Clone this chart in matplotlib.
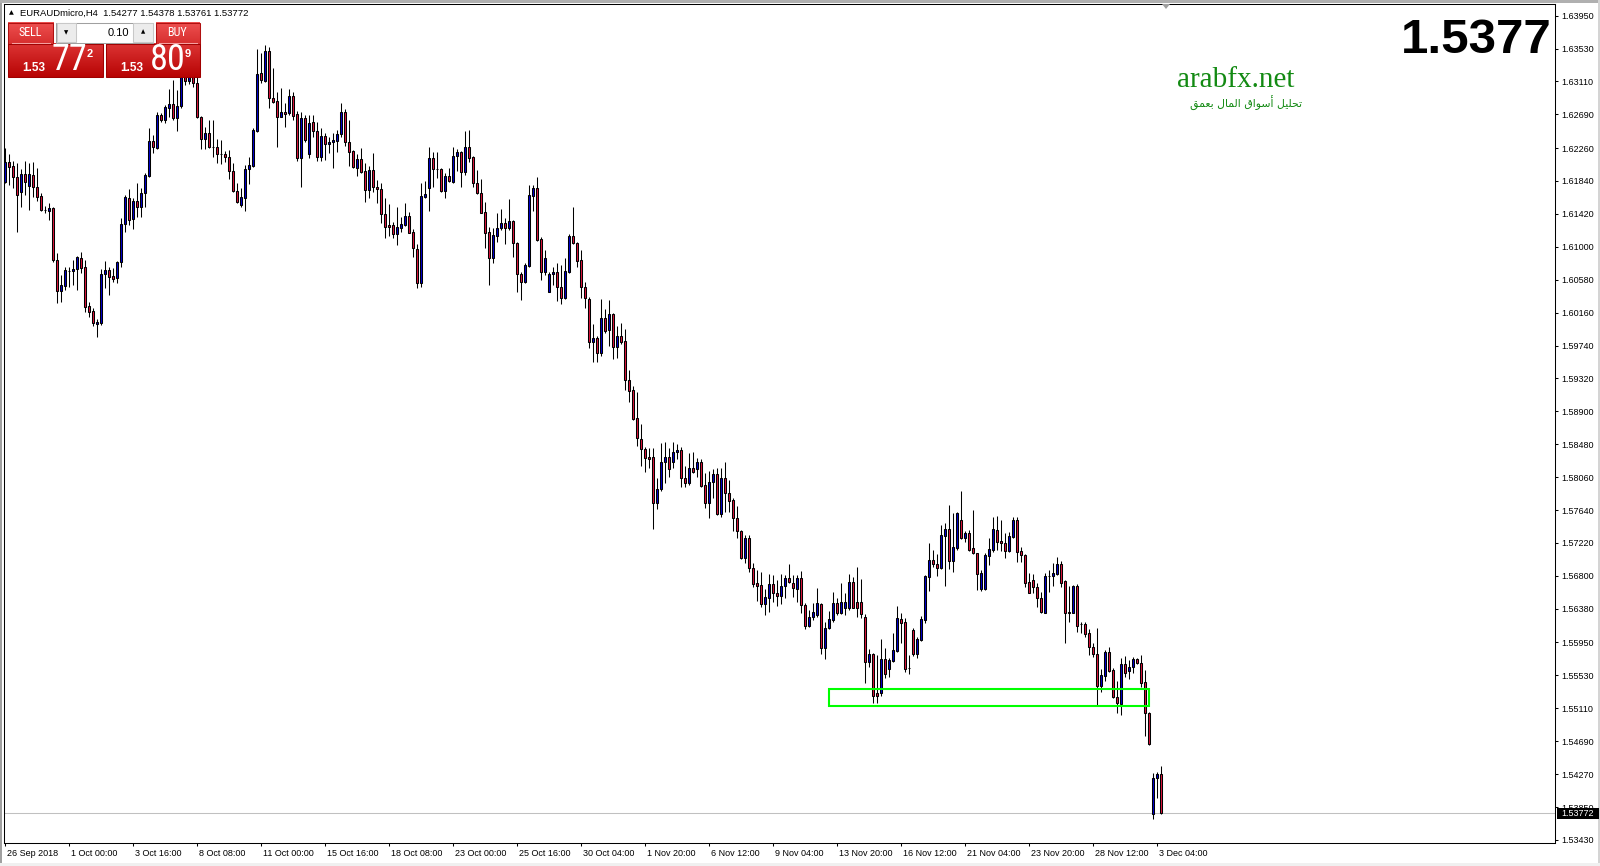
import numpy as np
import matplotlib.pyplot as plt
import matplotlib.transforms as mtransforms
from matplotlib import font_manager
from matplotlib.colors import LinearSegmentedColormap
from matplotlib.patches import Rectangle, Polygon

symbol = "EURAUDmicro,H4"
bid, ask, lot = 1.53772, 1.53809, "0.10"
site = "arabfx.net"
tagline = "تحليل أسواق المال بعمق"

# H4 candles, 26 Sep 2018 -> 3 Dec 2018
opens = [
    1.61832, 1.62079, 1.62032, 1.61887, 1.61704, 1.61926, 1.61781, 1.61917, 1.61760, 1.61649,
    1.61472, 1.61462, 1.61492, 1.60832, 1.60441, 1.60505, 1.60690, 1.60688, 1.60713, 1.60853,
    1.60739, 1.60245, 1.60181, 1.60011, 1.60032, 1.60649, 1.60705, 1.60628, 1.60607, 1.60807,
    1.61292, 1.61628, 1.61351, 1.61581, 1.61504, 1.61683, 1.61904, 1.62351, 1.62257, 1.62679,
    1.62619, 1.62776, 1.62819, 1.62649, 1.62802, 1.63210, 1.63120, 1.63300, 1.63095, 1.62653,
    1.62372, 1.62449, 1.62272, 1.62270, 1.62183, 1.62181, 1.62151, 1.61968, 1.61713, 1.61534,
    1.61628, 1.61989, 1.62032, 1.62483, 1.63215, 1.63121, 1.63500, 1.62904, 1.62862, 1.62662,
    1.62725, 1.62713, 1.62925, 1.62695, 1.62138, 1.62640, 1.62181, 1.62589, 1.62483, 1.62151,
    1.62415, 1.62308, 1.62334, 1.62355, 1.62436, 1.62717, 1.62334, 1.62223, 1.62010, 1.62117,
    1.61968, 1.61725, 1.61981, 1.61768, 1.61734, 1.61415, 1.61279, 1.61275, 1.61160, 1.61245,
    1.61279, 1.61394, 1.61189, 1.60968, 1.60543, 1.61640, 1.61755, 1.62130, 1.61991, 1.61989,
    1.61717, 1.61904, 1.61832, 1.62159, 1.62210, 1.61959, 1.62270, 1.62142, 1.61811, 1.61683,
    1.61440, 1.61185, 1.60853, 1.61143, 1.61236, 1.61300, 1.61236, 1.61330, 1.61045, 1.60653,
    1.60556, 1.60760, 1.61649, 1.61747, 1.61096, 1.60683, 1.60428, 1.60649, 1.60675, 1.60492,
    1.60343, 1.60683, 1.61143, 1.61045, 1.60832, 1.60483, 1.60334, 1.59781, 1.59832, 1.59641,
    1.60088, 1.59939, 1.60139, 1.59726, 1.59862, 1.59798, 1.59300, 1.59173, 1.58811, 1.58543,
    1.58416, 1.58318, 1.58313, 1.57735, 1.57905, 1.58250, 1.58322, 1.58258, 1.58377, 1.58403,
    1.58045, 1.57990, 1.58173, 1.58160, 1.58250, 1.57960, 1.57735, 1.57994, 1.58096, 1.57586,
    1.58045, 1.57854, 1.57769, 1.57535, 1.57373, 1.57024, 1.57280, 1.56897, 1.56705, 1.56684,
    1.56437, 1.56522, 1.56693, 1.56578, 1.56548, 1.56671, 1.56769, 1.56705, 1.56629, 1.56769,
    1.56429, 1.56165, 1.56271, 1.56301, 1.56442, 1.55876, 1.56131, 1.56237, 1.56450, 1.56322,
    1.56386, 1.56386, 1.56718, 1.56463, 1.56463, 1.56280, 1.55706, 1.55803, 1.55310, 1.55301,
    1.55740, 1.55608, 1.55718, 1.55846, 1.56246, 1.56212, 1.55623, 1.56110, 1.55799, 1.55982,
    1.56237, 1.56790, 1.57003, 1.56948, 1.56897, 1.57314, 1.57395, 1.56995, 1.57152, 1.57514,
    1.57288, 1.57352, 1.57152, 1.57088, 1.56629, 1.56633, 1.57054, 1.57131, 1.57386, 1.57246,
    1.57216, 1.57118, 1.57301, 1.57514, 1.57118, 1.57067, 1.56727, 1.56748, 1.56663, 1.56514,
    1.56331, 1.56801, 1.56799, 1.56825, 1.56948, 1.56735, 1.56333, 1.56331, 1.56671, 1.56188,
    1.56186, 1.56067, 1.55897, 1.55799, 1.55399, 1.55527, 1.55833, 1.55599, 1.55259, 1.55165,
    1.55672, 1.55591, 1.55633, 1.55740, 1.55693, 1.55442, 1.55046, 1.53761, 1.54217, 1.54277,
]
highs = [
    1.62257, 1.62185, 1.62096, 1.62066, 1.61989, 1.62096, 1.62066, 1.62087, 1.62002, 1.61683,
    1.61526, 1.61564, 1.61513, 1.60917, 1.60641, 1.60747, 1.60747, 1.60832, 1.60883, 1.60939,
    1.60832, 1.60300, 1.60224, 1.60075, 1.60722, 1.60824, 1.60747, 1.60726, 1.60824, 1.61364,
    1.61662, 1.61738, 1.61619, 1.61811, 1.61747, 1.61938, 1.62513, 1.62428, 1.62725, 1.62713,
    1.62810, 1.63010, 1.63130, 1.63002, 1.63342, 1.63380, 1.63450, 1.63420, 1.63200, 1.62670,
    1.62525, 1.62619, 1.62619, 1.62372, 1.62364, 1.62223, 1.62236, 1.62066, 1.61819, 1.61747,
    1.62040, 1.62143, 1.62513, 1.63521, 1.63478, 1.63576, 1.63555, 1.63278, 1.62981, 1.63023,
    1.62832, 1.63015, 1.62981, 1.62738, 1.62725, 1.62683, 1.62683, 1.62683, 1.62598, 1.62513,
    1.62449, 1.62406, 1.62457, 1.62491, 1.62832, 1.62755, 1.62619, 1.62236, 1.62181, 1.62257,
    1.62066, 1.62032, 1.62193, 1.61853, 1.61819, 1.61619, 1.61543, 1.61321, 1.61504, 1.61385,
    1.61555, 1.61449, 1.61223, 1.61036, 1.61811, 1.61845, 1.62270, 1.62215, 1.62215, 1.62010,
    1.61938, 1.62010, 1.62270, 1.62253, 1.62227, 1.62478, 1.62491, 1.62159, 1.61981, 1.61862,
    1.61577, 1.61249, 1.61236, 1.61436, 1.61483, 1.61364, 1.61611, 1.61343, 1.61066, 1.60683,
    1.60790, 1.61789, 1.61789, 1.61887, 1.61130, 1.60960, 1.60683, 1.60747, 1.60790, 1.60768,
    1.60853, 1.61160, 1.61504, 1.61066, 1.60960, 1.60555, 1.60356, 1.60015, 1.59862, 1.60334,
    1.60202, 1.60321, 1.60151, 1.59994, 1.60032, 1.59947, 1.59428, 1.59224, 1.59143, 1.58739,
    1.58450, 1.58428, 1.58428, 1.58045, 1.58492, 1.58513, 1.58428, 1.58505, 1.58479, 1.58450,
    1.58203, 1.58373, 1.58386, 1.58301, 1.58296, 1.58109, 1.58143, 1.58160, 1.58182, 1.58173,
    1.58250, 1.58024, 1.57790, 1.57692, 1.57386, 1.57322, 1.57322, 1.56961, 1.56876, 1.56854,
    1.56629, 1.56820, 1.56812, 1.56748, 1.56820, 1.56807, 1.56952, 1.56812, 1.56812, 1.56867,
    1.56450, 1.56365, 1.56459, 1.56642, 1.56459, 1.56216, 1.56352, 1.56590, 1.56514, 1.56705,
    1.56578, 1.56824, 1.56790, 1.56918, 1.56761, 1.56314, 1.55867, 1.55812, 1.55791, 1.55995,
    1.55876, 1.55757, 1.56067, 1.56416, 1.56323, 1.56259, 1.55791, 1.56131, 1.56025, 1.56293,
    1.56807, 1.57216, 1.57131, 1.57080, 1.57450, 1.57471, 1.57705, 1.57599, 1.57612, 1.57884,
    1.57378, 1.57386, 1.57641, 1.57097, 1.56876, 1.57088, 1.57280, 1.57556, 1.57565, 1.57514,
    1.57352, 1.57365, 1.57556, 1.57548, 1.57165, 1.57080, 1.56833, 1.56825, 1.56705, 1.56599,
    1.56833, 1.56876, 1.56961, 1.57037, 1.56995, 1.56748, 1.56671, 1.56684, 1.56697, 1.56216,
    1.56216, 1.56123, 1.55940, 1.56131, 1.55608, 1.55855, 1.55889, 1.55621, 1.55463, 1.55748,
    1.55782, 1.55727, 1.55761, 1.55757, 1.55791, 1.55599, 1.55067, 1.54284, 1.54301, 1.54378,
]
lows = [
    1.61811, 1.61789, 1.61747, 1.61194, 1.61513, 1.61662, 1.61470, 1.61641, 1.61589, 1.61462,
    1.61428, 1.61343, 1.60811, 1.60279, 1.60300, 1.60449, 1.60492, 1.60513, 1.60449, 1.60662,
    1.60173, 1.60109, 1.59990, 1.59845, 1.60003, 1.60471, 1.60386, 1.60556, 1.60534, 1.60747,
    1.61194, 1.61279, 1.61232, 1.61385, 1.61377, 1.61513, 1.61896, 1.62202, 1.62249, 1.62598,
    1.62576, 1.62653, 1.62619, 1.62483, 1.62768, 1.63060, 1.63080, 1.63044, 1.62640, 1.62245,
    1.62245, 1.62257, 1.62151, 1.62066, 1.62057, 1.62087, 1.61862, 1.61704, 1.61555, 1.61504,
    1.61462, 1.61802, 1.62015, 1.62470, 1.63095, 1.63108, 1.62768, 1.62832, 1.62279, 1.62653,
    1.62525, 1.62683, 1.62619, 1.62100, 1.61768, 1.62342, 1.62138, 1.62406, 1.62100, 1.62100,
    1.62108, 1.62202, 1.62010, 1.62215, 1.62406, 1.62287, 1.62032, 1.62010, 1.61908, 1.61938,
    1.61577, 1.61619, 1.61704, 1.61555, 1.61309, 1.61117, 1.61138, 1.61109, 1.61019, 1.61189,
    1.61266, 1.61172, 1.60875, 1.60470, 1.60483, 1.61619, 1.61462, 1.61768, 1.61874, 1.61704,
    1.61619, 1.61832, 1.61811, 1.61968, 1.61768, 1.61917, 1.62087, 1.61759, 1.61674, 1.61428,
    1.60981, 1.60513, 1.60790, 1.61066, 1.61215, 1.61036, 1.61215, 1.60875, 1.60428, 1.60322,
    1.60534, 1.60747, 1.61462, 1.61079, 1.60577, 1.60641, 1.60420, 1.60513, 1.60313, 1.60266,
    1.60330, 1.60670, 1.61036, 1.60738, 1.60343, 1.60215, 1.59705, 1.59534, 1.59534, 1.59611,
    1.59896, 1.59739, 1.59564, 1.59577, 1.59760, 1.59173, 1.59024, 1.58790, 1.58462, 1.58207,
    1.58131, 1.58173, 1.57399, 1.57658, 1.57888, 1.57982, 1.58067, 1.58173, 1.58288, 1.57931,
    1.57939, 1.57965, 1.58118, 1.58067, 1.57939, 1.57671, 1.57535, 1.57790, 1.57577, 1.57556,
    1.57620, 1.57616, 1.57378, 1.57280, 1.57012, 1.56961, 1.56854, 1.56663, 1.56484, 1.56408,
    1.56297, 1.56335, 1.56471, 1.56420, 1.56437, 1.56514, 1.56705, 1.56527, 1.56471, 1.56331,
    1.56118, 1.56144, 1.56237, 1.56280, 1.55799, 1.55735, 1.56118, 1.56216, 1.56301, 1.56310,
    1.56301, 1.56365, 1.56386, 1.56280, 1.56259, 1.55438, 1.55642, 1.55174, 1.55174, 1.55267,
    1.55501, 1.55514, 1.55706, 1.55833, 1.55940, 1.55578, 1.55544, 1.55782, 1.55757, 1.55974,
    1.56195, 1.56612, 1.56910, 1.56799, 1.56888, 1.56676, 1.56884, 1.56846, 1.57131, 1.57271,
    1.57237, 1.57118, 1.57080, 1.56620, 1.56612, 1.56620, 1.56939, 1.57110, 1.57131, 1.57118,
    1.57033, 1.57110, 1.57280, 1.56982, 1.56982, 1.56654, 1.56580, 1.56586, 1.56399, 1.56323,
    1.56323, 1.56599, 1.56676, 1.56812, 1.56663, 1.55940, 1.56216, 1.56323, 1.56089, 1.56067,
    1.56025, 1.55791, 1.55769, 1.55153, 1.55314, 1.55463, 1.55578, 1.55246, 1.55055, 1.55025,
    1.55506, 1.55480, 1.55565, 1.55680, 1.55387, 1.54761, 1.54642, 1.53693, 1.53961, 1.53761,
]
closes = [
    1.62079, 1.62023, 1.61887, 1.61662, 1.61926, 1.61832, 1.61926, 1.61760, 1.61641, 1.61470,
    1.61470, 1.61492, 1.60832, 1.60441, 1.60513, 1.60705, 1.60692, 1.60717, 1.60870, 1.60726,
    1.60237, 1.60173, 1.60024, 1.60041, 1.60649, 1.60705, 1.60619, 1.60594, 1.60807, 1.61296,
    1.61641, 1.61343, 1.61581, 1.61513, 1.61683, 1.61917, 1.62351, 1.62270, 1.62679, 1.62619,
    1.62781, 1.62819, 1.62649, 1.62798, 1.63215, 1.63120, 1.63300, 1.63087, 1.62662, 1.62372,
    1.62449, 1.62270, 1.62270, 1.62181, 1.62181, 1.62151, 1.61972, 1.61717, 1.61577, 1.61641,
    1.61994, 1.62045, 1.62491, 1.63206, 1.63130, 1.63500, 1.62904, 1.62853, 1.62662, 1.62725,
    1.62696, 1.62925, 1.62670, 1.62138, 1.62640, 1.62364, 1.62576, 1.62483, 1.62151, 1.62415,
    1.62308, 1.62334, 1.62364, 1.62436, 1.62717, 1.62334, 1.62215, 1.62023, 1.62117, 1.61959,
    1.61725, 1.61981, 1.61768, 1.61734, 1.61415, 1.61257, 1.61257, 1.61164, 1.61253, 1.61287,
    1.61394, 1.61181, 1.60981, 1.60543, 1.61649, 1.61674, 1.62130, 1.61989, 1.61989, 1.61717,
    1.61904, 1.61845, 1.62159, 1.62210, 1.61959, 1.62270, 1.62138, 1.61811, 1.61683, 1.61436,
    1.61181, 1.60853, 1.61151, 1.61236, 1.61300, 1.61236, 1.61330, 1.61045, 1.60649, 1.60556,
    1.60768, 1.61662, 1.61747, 1.61087, 1.60683, 1.60853, 1.60649, 1.60675, 1.60492, 1.60343,
    1.60692, 1.61143, 1.61045, 1.60824, 1.60483, 1.60343, 1.59790, 1.59832, 1.59649, 1.60088,
    1.59930, 1.60139, 1.59726, 1.59862, 1.59790, 1.59300, 1.59164, 1.58803, 1.58556, 1.58416,
    1.58301, 1.58296, 1.57735, 1.57905, 1.58250, 1.58322, 1.58160, 1.58377, 1.58403, 1.58045,
    1.57990, 1.58173, 1.58131, 1.58250, 1.57952, 1.57735, 1.57994, 1.58096, 1.57586, 1.58045,
    1.57854, 1.57760, 1.57535, 1.57373, 1.57024, 1.57280, 1.56897, 1.56697, 1.56676, 1.56437,
    1.56527, 1.56693, 1.56578, 1.56548, 1.56671, 1.56769, 1.56727, 1.56642, 1.56769, 1.56429,
    1.56165, 1.56271, 1.56335, 1.56450, 1.55876, 1.56131, 1.56246, 1.56450, 1.56322, 1.56471,
    1.56471, 1.56718, 1.56395, 1.56395, 1.56310, 1.55706, 1.55803, 1.55272, 1.55272, 1.55740,
    1.55544, 1.55727, 1.55855, 1.56259, 1.56203, 1.55612, 1.55621, 1.55799, 1.55991, 1.56250,
    1.56799, 1.57003, 1.56948, 1.56897, 1.57322, 1.57395, 1.56995, 1.57165, 1.57599, 1.57288,
    1.57352, 1.57131, 1.57088, 1.56825, 1.56833, 1.57067, 1.57139, 1.57395, 1.57237, 1.57216,
    1.57118, 1.57309, 1.57514, 1.57110, 1.57067, 1.56714, 1.56586, 1.56654, 1.56514, 1.56344,
    1.56799, 1.56799, 1.56833, 1.56948, 1.56714, 1.56331, 1.56331, 1.56671, 1.56161, 1.56186,
    1.56059, 1.55889, 1.55799, 1.55399, 1.55535, 1.55825, 1.55591, 1.55259, 1.55174, 1.55672,
    1.55557, 1.55633, 1.55735, 1.55684, 1.55438, 1.55046, 1.54651, 1.54224, 1.54268, 1.53772,
]

date_labels = [
    "26 Sep 2018", "1 Oct 00:00", "3 Oct 16:00", "8 Oct 08:00", "11 Oct 00:00",
    "15 Oct 16:00", "18 Oct 08:00", "23 Oct 00:00", "25 Oct 16:00", "30 Oct 04:00",
    "1 Nov 20:00", "6 Nov 12:00", "9 Nov 04:00", "13 Nov 20:00", "16 Nov 12:00",
    "21 Nov 04:00", "23 Nov 20:00", "28 Nov 12:00", "3 Dec 04:00",
]
price_labels = [
    "1.63950", "1.63530", "1.63110", "1.62690", "1.62260", "1.61840", "1.61420",
    "1.61000", "1.60580", "1.60160", "1.59740", "1.59320", "1.58900", "1.58480",
    "1.58060", "1.57640", "1.57220", "1.56800", "1.56380", "1.55950", "1.55530",
    "1.55110", "1.54690", "1.54270", "1.53850", "1.53430",
]

# support zone drawn on the chart (candle index range, price range)
zone_from, zone_to = 206, 286
zone_low, zone_high = 1.55142, 1.55354

bull_color = "#0000cd"
bear_color = "#dc143c"
green = "#138a13"

names = {f.name for f in font_manager.fontManager.ttflist}
narrow = next((n for n in ("Liberation Sans Narrow", "Roboto Condensed", "Noto Sans Condensed")
               if n in names), None)
big_digits = dict(family=narrow, fontsize=26) if narrow else dict(family="Liberation Sans", fontsize=22)
ui_font = ["Liberation Sans", "DejaVu Sans"]

W, H = 1600, 866
fig = plt.figure(figsize=(W / 100, H / 100), dpi=100, facecolor="white")
ax = fig.add_axes([4 / W, 23 / H, 1551 / W, 839 / H])

o = np.array(opens)
h = np.array(highs)
l = np.array(lows)
c = np.array(closes)
x = np.arange(len(o))
up = c >= o

ax.axhline(c[-1], color="#c0c0c0", lw=0.75, zorder=1)
ax.vlines(x, l, h, color="black", lw=0.75, zorder=2)
ax.bar(x, np.abs(c - o), bottom=np.minimum(o, c), width=0.5,
       color=np.where(up, bull_color, bear_color), edgecolor="black",
       linewidth=0.75, zorder=3)
ax.add_patch(Rectangle((zone_from, zone_low), zone_to - zone_from, zone_high - zone_low,
                       fill=False, ec="#00ff00", lw=1.5, zorder=4))

ax.set_xlim(-0.325, 387.4)
ax.set_ylim(1.53391, 1.64099)
for s in ax.spines.values():
    s.set_color("black")
    s.set_linewidth(0.75)

ax.yaxis.tick_right()
ax.set_yticks([float(s) for s in price_labels], price_labels)
ax.tick_params(axis="y", right=True, left=False, direction="out", length=2.2,
               width=0.75, pad=2.6, labelsize=6.5)
ax.set_xticks(np.arange(0, len(o), 16), date_labels)
ax.tick_params(axis="x", direction="out", length=2.2, width=0.75, pad=1.8, labelsize=6.5)
shift = mtransforms.ScaledTranslation(0.02, 0, fig.dpi_scale_trans)
for lab in ax.get_xticklabels():
    lab.set_ha("left")
    lab.set_transform(lab.get_transform() + shift)
for lab in ax.get_xticklabels() + ax.get_yticklabels():
    lab.set_family(ui_font)


# simple Arabic shaping for matplotlib (no bidi support)
forms = {
    "ا": (0xFE8D, 0xFE8E, 0, 0), "أ": (0xFE83, 0xFE84, 0, 0),
    "و": (0xFEED, 0xFEEE, 0, 0),
    "ب": (0xFE8F, 0xFE90, 0xFE91, 0xFE92), "ت": (0xFE95, 0xFE96, 0xFE97, 0xFE98),
    "ح": (0xFEA1, 0xFEA2, 0xFEA3, 0xFEA4), "س": (0xFEB1, 0xFEB2, 0xFEB3, 0xFEB4),
    "ع": (0xFEC9, 0xFECA, 0xFECB, 0xFECC), "ق": (0xFED5, 0xFED6, 0xFED7, 0xFED8),
    "ل": (0xFEDD, 0xFEDE, 0xFEDF, 0xFEE0), "م": (0xFEE1, 0xFEE2, 0xFEE3, 0xFEE4),
    "ي": (0xFEF1, 0xFEF2, 0xFEF3, 0xFEF4),
}


def shape(text):
    out = []
    for k, ch in enumerate(text):
        if ch not in forms:
            out.append(ch)
            continue
        prev = text[k - 1] if k else ""
        nxt = text[k + 1] if k + 1 < len(text) else ""
        jp = prev in forms and forms[prev][2] != 0
        jn = forms[ch][2] != 0 and nxt in forms
        iso, fin, ini, med = forms[ch]
        out.append(chr(med if jp and jn else fin if jp else ini if jn else iso))
    return "".join(reversed(out))


# overlay in pixel coordinates for the terminal decorations
ov = fig.add_axes([0, 0, 1, 1], zorder=10)
ov.axis("off")


def box(x0, y0, x1, y1, fc, ec="none", lw=0.75, z=2):
    ov.add_patch(Rectangle((x0, y0), x1 - x0, y1 - y0, fc=fc, ec=ec, lw=lw, zorder=z))


def grad(x0, y0, x1, y1, ctop, cbot, edge):
    cmap = LinearSegmentedColormap.from_list("g", [ctop, cbot])
    ov.imshow(np.linspace(0, 1, 40).reshape(-1, 1), extent=(x0, x1, y1, y0), cmap=cmap,
              aspect="auto", interpolation="bilinear", zorder=2)
    ov.add_patch(Rectangle((x0, y0), x1 - x0, y1 - y0, fill=False, ec=edge, lw=0.75, zorder=3))


# window borders
box(0, 0, 2, H, "#a0a0a0")
box(0, 0, W, 3, "#b0b0b0")
box(W - 2, 0, W, H, "#d4d4d4")
box(0, H - 3, W, H, "#f0f0f0")
ov.add_patch(Polygon([(1162, 4), (1170, 4), (1166, 9)], fc="#a0a0a0", ec="none", zorder=3))

# header line
ov.text(11.5, 12.5, "▲", fontsize=4.5, family="DejaVu Sans", ha="center", va="center")
ov.text(20.5, 13, f"{symbol}  {o[-1]:.5f} {h[-1]:.5f} {l[-1]:.5f} {c[-1]:.5f}",
        fontsize=6.8, family=ui_font, ha="left", va="center")

# one-click trading panel
grad(8, 22.7, 53.3, 43.5, "#ee5050", "#d83030", "#b01010")
grad(8, 43.5, 103.3, 77.3, "#dc3434", "#b80404", "#a00000")
grad(156, 22.7, 200, 43.5, "#ee5050", "#d83030", "#b01010")
grad(106, 43.5, 200, 77.3, "#dc3434", "#b80404", "#a00000")
ov.plot([12, 50], [43.3, 43.3], color="#f5a0a0", lw=0.75, zorder=4)
ov.plot([159, 197], [43.3, 43.3], color="#f5a0a0", lw=0.75, zorder=4)
box(56, 22.7, 153.3, 42.7, "white", ec="#a0a0a0", z=3)
box(56.7, 23.3, 76, 42, "#ececec", ec="#c8c8c8", z=4)
box(133.3, 23.3, 152.7, 42, "#ececec", ec="#c8c8c8", z=4)
ov.text(66.3, 32.5, "▼", fontsize=4, family="DejaVu Sans", ha="center", va="center", zorder=5)
ov.text(143, 32, "▲", fontsize=4, family="DejaVu Sans", ha="center", va="center", zorder=5)
ov.text(129.5, 32.5, lot, fontsize=8, family=ui_font, ha="right", va="center", zorder=5)
ov.text(30.5, 33, "SELL", fontsize=8.7, family=narrow or ui_font, color="white",
        ha="center", va="center", zorder=5)
ov.text(177.5, 33, "BUY", fontsize=8.7, family=narrow or ui_font, color="white",
        ha="center", va="center", zorder=5)
for px, val in ((22.7, bid), (120.7, ask)):
    s = f"{val:.5f}"
    ov.text(px, 70.7, s[:4], fontsize=8.5, family=ui_font, weight="bold", color="white",
            ha="left", va="baseline", zorder=5)
    ov.text(px + 28.8, 70, s[4:6], color="white", ha="left", va="baseline", zorder=5,
            **big_digits)
    ov.text(px + 64, 57, s[6], fontsize=8, family=ui_font, weight="bold", color="white",
            ha="left", va="baseline", zorder=5)

# big bid price and logo
ov.text(1552, 53.3, f"{bid:.4f}", fontsize=35.5, family="Liberation Sans", weight="bold",
        ha="right", va="baseline", zorder=5)
ov.text(1177, 87, site, fontsize=21, family="Liberation Serif", color=green,
        ha="left", va="baseline", zorder=5)
ov.text(1302, 108, shape(tagline), fontsize=7.8, family="DejaVu Sans", color=green,
        ha="right", va="baseline", zorder=5)

# current price marker on the price scale
box(1557, 808, 1599, 818.5, "black", z=5)
ov.text(1561, 813.5, f"{bid:.5f}", fontsize=6.5, family=ui_font, color="white",
        ha="left", va="center", zorder=6)

ov.set_xlim(0, W)
ov.set_ylim(H, 0)

fig.savefig("out.png", dpi=100, facecolor="white")
